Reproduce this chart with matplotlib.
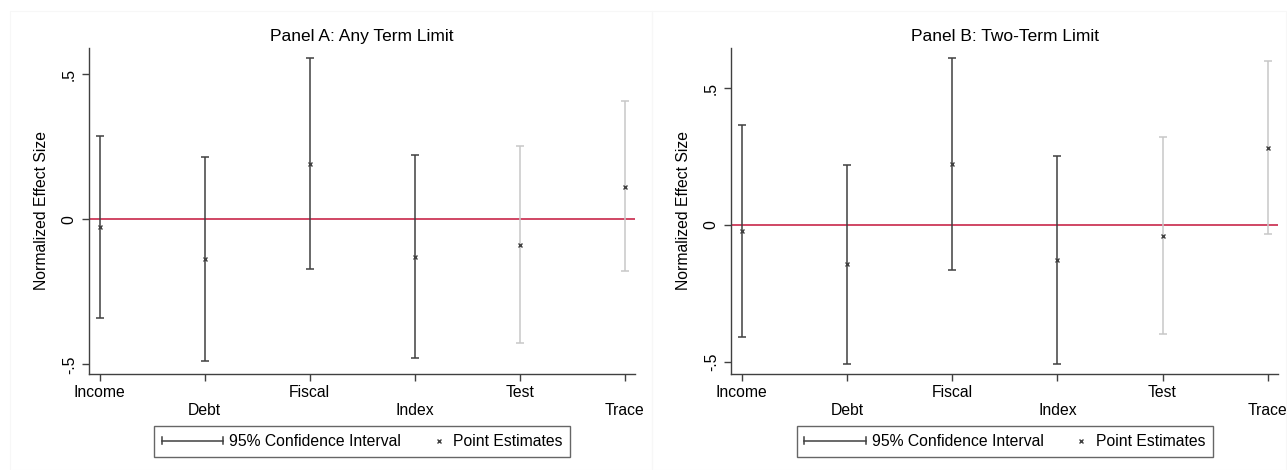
import matplotlib.pyplot as plt
import numpy as np
from matplotlib.legend_handler import HandlerBase
from matplotlib.lines import Line2D
from matplotlib.patches import Rectangle

plt.rcParams['font.family'] = ['Liberation Sans', 'DejaVu Sans']

outcomes = ["Income", "Debt", "Fiscal", "Index", "Test", "Trace"]

# Panel A: Any Term Limit
est_a = [-0.027, -0.138, 0.192, -0.130, -0.088, 0.112]
lo_a = [-0.340, -0.489, -0.171, -0.478, -0.425, -0.179]
hi_a = [0.288, 0.216, 0.557, 0.221, 0.252, 0.407]

# Panel B: Two-Term Limit
est_b = [-0.024, -0.144, 0.223, -0.127, -0.040, 0.280]
lo_b = [-0.410, -0.508, -0.165, -0.507, -0.399, -0.035]
hi_b = [0.366, 0.220, 0.612, 0.253, 0.321, 0.600]

# first four outcomes dark, last two light
bar_colors = ["#404040"] * 4 + ["#c8c8c8"] * 2

DARK = "#404040"
RED = "#c8284a"
FS = 11.3


class CIHandler(HandlerBase):
    def create_artists(self, legend, orig_handle, xdescent, ydescent,
                       width, height, fontsize, trans):
        y = height / 2 - ydescent
        cap = height * 0.35
        x0, x1 = -xdescent, width - xdescent
        arts = [Line2D([x0, x1], [y, y], color=DARK, lw=1.1),
                Line2D([x0, x0], [y - cap, y + cap], color=DARK, lw=1.1),
                Line2D([x1, x1], [y - cap, y + cap], color=DARK, lw=1.1)]
        for a in arts:
            a.set_transform(trans)
        return arts


class PointHandler(HandlerBase):
    # marker sits at the right end of the handle box, close to its text
    def create_artists(self, legend, orig_handle, xdescent, ydescent,
                       width, height, fontsize, trans):
        y = height / 2 - ydescent
        x = width - xdescent - 0.5 * fontsize
        m = Line2D([x], [y], ls="none", marker="x", color=DARK,
                   markersize=3.5, mew=1.0)
        m.set_transform(trans)
        return [m]


def draw_panel(ax, title, est, lo, hi, ylim):
    pos = np.arange(1, len(outcomes) + 1)
    ax.axhline(0, color=RED, lw=1.2, zorder=1)
    for i in range(len(outcomes)):
        ax.errorbar(pos[i], est[i],
                    yerr=[[est[i] - lo[i]], [hi[i] - est[i]]],
                    fmt="none", ecolor=bar_colors[i], elinewidth=1.1,
                    capsize=3, capthick=1.1, zorder=2)
    ax.plot(pos, est, "x", color=DARK, markersize=3.5, mew=1.0, zorder=3)

    ax.set_xlim(0.9, 6.1)
    ax.set_ylim(*ylim)
    ax.set_xticks(pos)
    ax.set_xticklabels([o if i % 2 == 0 else "\n" + o for i, o in enumerate(outcomes)],
                       linespacing=1.25)
    ax.set_yticks([-0.5, 0, 0.5])
    ax.set_yticklabels(["-.5", "0", ".5"], rotation=90, va="center")
    ax.tick_params(axis="both", direction="out", length=5, width=1.0,
                   color=DARK, labelsize=FS, pad=4)
    ax.tick_params(axis="x", pad=3)
    for s in ["top", "right"]:
        ax.spines[s].set_visible(False)
    for s in ["left", "bottom"]:
        ax.spines[s].set_color(DARK)
        ax.spines[s].set_linewidth(1.0)
    ax.set_ylabel("Normalized Effect Size", fontsize=FS, labelpad=9)
    ax.set_title(title, fontsize=12.5, pad=5)

    h_ci = Line2D([], [])
    h_pt = Line2D([], [])
    leg = ax.legend([h_ci, h_pt], ["95% Confidence Interval", "Point Estimates"],
                    handler_map={h_ci: CIHandler(), h_pt: PointHandler()},
                    loc="upper center", bbox_to_anchor=(0.5, -0.136), ncol=2,
                    fontsize=FS, frameon=True, fancybox=False,
                    handlelength=3.9, columnspacing=-1.0, borderpad=0.5,
                    handletextpad=0.4)
    leg.get_frame().set_edgecolor(DARK)
    leg.get_frame().set_linewidth(1.0)


fig = plt.figure(figsize=(12.87, 4.70), dpi=100)

# faint panel borders
for x0, w in [(10 / 1287, 642 / 1287), (652 / 1287, 634 / 1287)]:
    fig.patches.append(Rectangle((x0, 0.0), w, 1 - 11 / 470, transform=fig.transFigure,
                                 fill=False, edgecolor="#f7f7f7", lw=0.8))

ax_a = fig.add_axes([0.0694, 0.2043, 0.4240, 0.6942])
ax_b = fig.add_axes([0.5682, 0.2043, 0.4250, 0.6942])

draw_panel(ax_a, "Panel A: Any Term Limit", est_a, lo_a, hi_a, (-0.533, 0.592))
draw_panel(ax_b, "Panel B: Two-Term Limit", est_b, lo_b, hi_b, (-0.545, 0.648))

fig.savefig("out.png", dpi=100, facecolor="white")
